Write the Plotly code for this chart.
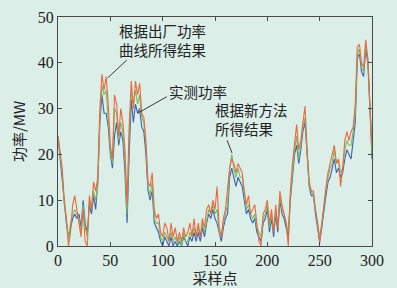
import plotly.graph_objects as go

# sample index (every 2nd sample)
x_samples = list(range(0, 301, 2))

# 实测功率 (measured power), MW
measured = [24, 19, 15, 9, 5, 2, 4, 6, 7, 6, 7, 4, 10, 5, 3, 9, 7, 11, 8, 14,
            27, 33, 29, 29, 26, 20, 17, 24, 27, 22, 25, 23, 16, 5, 20, 32, 27, 31, 29, 30,
            26, 25, 20, 12, 10, 12, 5, 4, 3, 1, 0, 2, 1, 0, 2, 0, 1, 0, 1, 0,
            2, 1, 0, 2, 1, 3, 1, 3, 1, 4, 2, 5, 7, 6, 8, 6, 5, 3, 1, 4,
            6, 7, 15, 17, 15, 13, 15, 14, 13, 10, 7, 8, 6, 5, 6, 3, 2, 1, 5, 6,
            8, 3, 6, 2, 7, 3, 10, 7, 6, 4, 2, 10, 16, 20, 22, 18, 21, 25, 27, 19,
            13, 11, 11, 7, 4, 1, 4, 8, 11, 14, 15, 17, 19, 16, 17, 15, 16, 19, 21, 20,
            19, 23, 27, 41, 42, 38, 37, 43, 40, 30, 19]

# 根据出厂功率曲线所得结果 (factory power curve result), MW
factory_curve = [24, 21, 17, 10, 6, 0, 3, 9, 11, 8, 5, 2, 8, 1, 0, 11, 8, 14, 12, 15,
                 30, 37.5, 34, 37, 31, 22, 19, 33, 31, 24, 30, 27, 21, 9, 26, 36, 30, 36, 33, 35.5,
                 29, 28, 23, 14, 13, 16, 8, 6, 7, 3, 2, 5, 4, 1, 5, 2, 4, 1, 3, 1,
                 4, 2, 3, 5, 2, 6, 2, 5, 2, 6, 4, 8, 9, 7, 10, 8, 13, 4, 2, 6,
                 8, 12, 17, 19, 18, 16, 18, 17, 16, 12, 9, 11, 7, 8, 9, 5, 1, 0, 7, 8,
                 10, 5, 8, 3, 9, 4, 12, 9, 7, 5, 0, 12, 18, 23, 26.5, 21, 23, 27, 30.5, 21,
                 14, 12, 12, 8, 5, 0.5, 5, 9, 13, 16, 18, 20, 22, 18, 19, 13, 17, 23, 25, 23,
                 25, 26, 31, 43.5, 44, 40, 39, 45, 41, 31, 22]

# 根据新方法所得结果 (new method result), MW
new_method = [24, 20, 16, 9, 6, 1.5, 5, 7, 8, 7, 6, 3, 9, 4, 2, 10, 8, 12, 10, 13,
              28, 35, 33, 34, 28, 21, 18, 30, 29, 23, 27, 25, 18, 7, 24, 34, 31, 34, 31, 33,
              28, 27, 22, 13, 11, 14, 6, 5, 5, 2, 1, 3, 2, 1, 3, 1, 2, 0.5, 2, 0,
              3, 1, 1, 3, 2, 4, 2, 4, 2, 5, 3, 6, 8, 7, 9, 7, 8, 3, 2, 5,
              7, 9, 17, 20, 17, 15, 17, 15, 15, 11, 8, 9, 7, 6, 7, 4, 3, 2, 6, 7,
              9, 4, 7, 3, 8, 4, 11, 8, 7, 5, 3, 11, 17, 21, 24, 19, 22, 26, 28, 20,
              13, 12, 11, 8, 5, 2, 5, 9, 12, 15, 17, 18, 21, 18, 19, 16, 17, 21, 23, 22,
              22, 25, 29, 42, 43, 39, 38, 44, 41, 31, 20]

x_ticks = [0, 50, 100, 150, 200, 250, 300]
y_ticks = [0, 10, 20, 30, 40, 50]

bg = "#dbeee8"
axis_col = "#4a4a4a"

fig = go.Figure()
fig.add_trace(go.Scatter(x=x_samples, y=measured, mode="lines", name="实测功率",
                         line=dict(color="#3f5fb2", width=1.1)))
fig.add_trace(go.Scatter(x=x_samples, y=new_method, mode="lines", name="根据新方法所得结果",
                         line=dict(color="#76bf62", width=1.1)))
fig.add_trace(go.Scatter(x=x_samples, y=factory_curve, mode="lines", name="根据出厂功率曲线所得结果",
                         line=dict(color="#ea6a40", width=1.1)))

cjk = "Noto Sans CJK SC"
serif = "Liberation Serif"

annots = [
    dict(x=56, y=45, text="根据出厂功率<br>曲线所得结果"),
    dict(x=104, y=33.8, text="实测功率"),
    dict(x=148, y=27.8, text="根据新方法<br>所得结果"),
]
for a in annots:
    fig.add_annotation(x=a["x"], y=a["y"], xref="x", yref="y", text=a["text"],
                       showarrow=False, xanchor="left", yanchor="middle", align="left",
                       font=dict(family=cjk, size=14.5, color="#222222"))

leaders = [((65.7, 40.6), (47.5, 36.7)),
           ((104.0, 32.6), (76.2, 29.0)),
           ((161.5, 23.1), (166.3, 20.3))]
for (x0, y0), (x1, y1) in leaders:
    fig.add_shape(type="line", xref="x", yref="y", x0=x0, y0=y0, x1=x1, y1=y1,
                  line=dict(color="#222222", width=0.9))

fig.update_layout(
    width=397, height=288,
    margin=dict(l=58, r=25, t=17, b=42, autoexpand=False),
    paper_bgcolor=bg, plot_bgcolor=bg,
    showlegend=False,
)
fig.update_xaxes(range=[0, 300], tickvals=x_ticks, ticks="inside", ticklen=4,
                 tickcolor=axis_col, showline=True, linecolor=axis_col, linewidth=1,
                 mirror="ticks", showgrid=False, zeroline=False, automargin=False,
                 tickfont=dict(family=serif, size=16, color="#222222"),
                 title=dict(text="采样点", font=dict(family=cjk, size=15, color="#222222"),
                            standoff=5))
fig.update_yaxes(range=[0, 50], tickvals=y_ticks, ticks="inside", ticklen=4,
                 tickcolor=axis_col, showline=True, linecolor=axis_col, linewidth=1,
                 mirror="ticks", showgrid=False, zeroline=False, automargin=False,
                 tickfont=dict(family=serif, size=16, color="#222222"),
                 title=dict(text="功率/MW", font=dict(family=cjk, size=15, color="#222222"),
                            standoff=8))

fig.write_html("out.html", config={"displayModeBar": False},
               post_script="document.body.style.margin='0';document.body.style.background='%s';" % bg)
